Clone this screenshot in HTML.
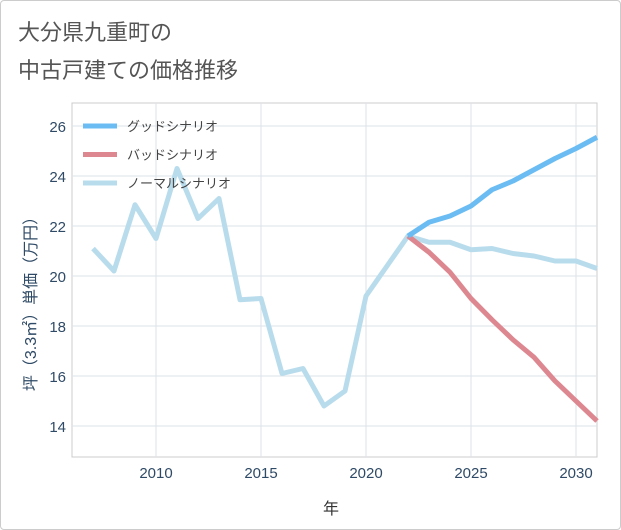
<!DOCTYPE html>
<html><head><meta charset="utf-8"><style>
body{margin:0;background:#fff;font-family:"Liberation Sans","Noto Sans CJK JP",sans-serif}
#wrap{position:relative;width:619px;height:528px;border:1px solid #ccc;border-radius:4px;background:#fff}
</style></head><body>
<div id="wrap">
<svg id="chart" width="621" height="530" style="position:absolute;left:-1px;top:-1px">
<text x="18" y="40" font-size="22" fill="#555" font-family="Liberation Sans,Noto Sans CJK JP,sans-serif">大分県九重町の</text>
<text x="18" y="78" font-size="22" fill="#555" font-family="Liberation Sans,Noto Sans CJK JP,sans-serif">中古戸建ての価格推移</text>
<rect x="72" y="103" width="525" height="354" fill="#fff" stroke="#ccc"/>
<g id="grid"></g><g id="series"></g><g id="legend"></g>
<text x="331" y="514" font-size="16" fill="#333" text-anchor="middle" font-family="Liberation Sans,Noto Sans CJK JP,sans-serif">年</text>
<text transform="translate(36,300) rotate(-90)" font-size="16" fill="#2f4a66" text-anchor="middle" font-family="Liberation Sans,Noto Sans CJK JP,sans-serif">坪（3.3㎡）単価（万円）</text>
</svg></div>
<script>
const normalYears=[2007,2008,2009,2010,2011,2012,2013,2014,2015,2016,2017,2018,2019,2020,2021,2022,2023,2024,2025,2026,2027,2028,2029,2030,2031];
const normalValues=[21.1,20.2,22.85,21.5,24.3,22.3,23.1,19.05,19.1,16.1,16.3,14.8,15.4,19.2,20.4,21.6,21.35,21.35,21.05,21.1,20.9,20.8,20.6,20.6,20.3];
const scenarioYears=[2022,2023,2024,2025,2026,2027,2028,2029,2030,2031];
const goodValues=[21.6,22.15,22.4,22.8,23.45,23.8,24.25,24.7,25.1,25.55];
const badValues=[21.6,20.95,20.15,19.1,18.25,17.45,16.75,15.8,15.0,14.2];
const xTicks=[2010,2015,2020,2025,2030];
const yTicks=[14,16,18,20,22,24,26];
const legendLabels=["グッドシナリオ","バッドシナリオ","ノーマルシナリオ"];
const NS="http://www.w3.org/2000/svg";
const X=y=>156+(y-2010)*21, Y=v=>426-(v-14)*25;
const grid=document.getElementById('grid'),ser=document.getElementById('series'),leg=document.getElementById('legend');
function mk(tag,attrs,parent){const e=document.createElementNS(NS,tag);for(const k in attrs)e.setAttribute(k,attrs[k]);parent.appendChild(e);return e;}
xTicks.forEach(t=>{
 const l=mk('line',{x1:X(t),x2:X(t),y1:103,y2:457,stroke:'#dde3ea'},grid);
 
 
 const tx=mk('text',{x:X(t),y:478,'font-size':15,fill:'#2f4a66','text-anchor':'middle'},grid);tx.textContent=t;
 
 
});
yTicks.forEach(t=>{
 const l=mk('line',{x1:72,x2:597,y1:Y(t),y2:Y(t),stroke:'#dde3ea'},grid);
 
 
 const tx=mk('text',{x:66,y:Y(t)+6,'font-size':15,fill:'#2f4a66','text-anchor':'end'},grid);tx.textContent=t;
 
 
});
function line(xs,vs,color,name){
 const p=mk('polyline',{points:xs.map((x,i)=>X(x)+','+Y(vs[i])).join(' '),fill:'none',stroke:color,'stroke-width':5,'stroke-linejoin':'round'},ser);
 
 
}
line(normalYears,normalValues,'#b9dcec','normal-scenario-line');
line(scenarioYears,badValues,'#dd8790','bad-scenario-line');
line(scenarioYears,goodValues,'#6abcf3','good-scenario-line');
const lc=['#6abcf3','#dd8790','#b9dcec'];
legendLabels.forEach((lab,i)=>{
 const y=126+i*28.5;
 const l=mk('line',{x1:83,x2:117,y1:y,y2:y,stroke:lc[i],'stroke-width':5},leg);
 
 
 const t=mk('text',{x:127,y:y+5,'font-size':13,fill:'#444'},leg);t.textContent=lab;
 
 
});
</script>
</body></html>
